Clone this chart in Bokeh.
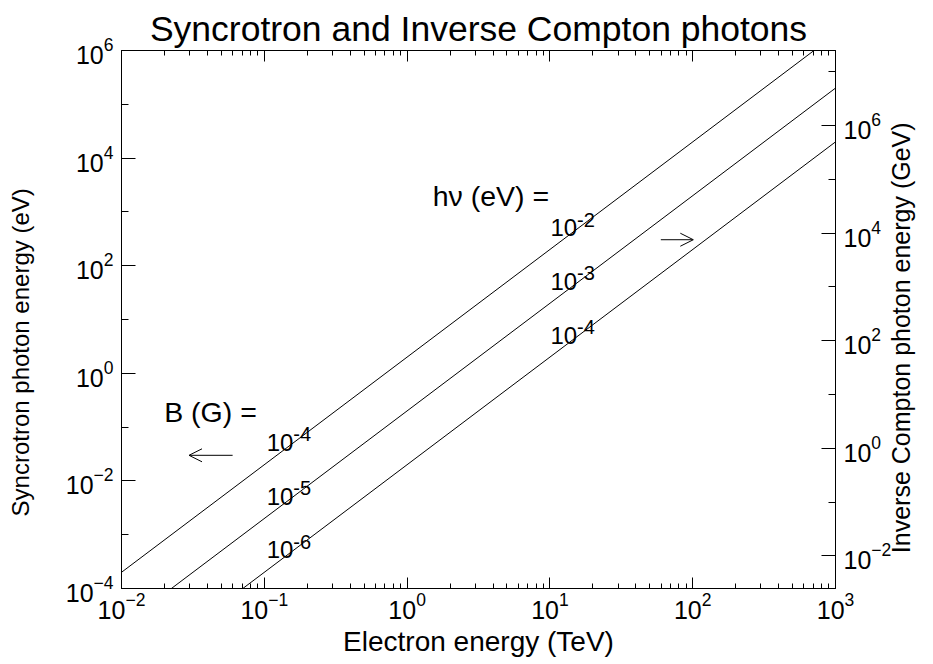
import math
from bokeh.plotting import figure
from bokeh.models import (Range1d, LogAxis, LogScale, FixedTicker, Arrow, OpenHead,
                          CustomJSTickFormatter)
from bokeh.core.properties import value
from bokeh.embed import file_html
from bokeh.resources import INLINE

# ---------------- data ----------------
electron_energy_tev = [1e-2, 1e3]
syn_B_1e4 = [2.0e-4, 2.0e6]     # B = 1e-4 G  /  hv = 1e-2 eV
syn_B_1e5 = [2.0e-5, 2.0e5]     # B = 1e-5 G  /  hv = 1e-3 eV
syn_B_1e6 = [2.0e-6, 2.0e4]     # B = 1e-6 G  /  hv = 1e-4 eV

x_limits = (1e-2, 1e3)
y_limits = (1e-4, 1e6)
ic_limits = (2.47e-3, 2.47e7)

x_major = [1e-2, 1e-1, 1e0, 1e1, 1e2, 1e3]
x_minor = [m * d for d in [1e-2, 1e-1, 1e0, 1e1, 1e2] for m in range(2, 10)]
y_major = [1e-4, 1e-2, 1e0, 1e2, 1e4, 1e6]
y_minor = [1e-3, 1e-1, 1e1, 1e3, 1e5]
ic_major = [1e-2, 1e0, 1e2, 1e4, 1e6]
ic_minor = [1e-1, 1e1, 1e3, 1e5, 1e7]

b_header = "B (G) ="
b_exponents = ["-4", "-5", "-6"]
b_label_x = [0.104, 0.104, 0.104]
b_label_y = [0.052, 0.0052, 0.00052]

hv_header = "h\u03bd (eV) ="
hv_exponents = ["-2", "-3", "-4"]
hv_label_x = [10.1, 10.1, 10.1]
hv_label_y = [508.0, 51.0, 5.1]

left_title = "Syncrotron photon energy (eV)"
right_title = "Inverse Compton photon energy (GeV)"
left_title_at = 2.45      # axis value at the middle of the left title
right_title_at = 0.0112   # axis value where the right title begins

FONT = "Liberation Sans"
W, H = 933, 664
BL, BR, BT, BB = 121, 98, 50, 76          # borders around the frame

p = figure(width=W, height=H, x_axis_type="log", y_axis_type="log",
           x_range=Range1d(*x_limits), y_range=Range1d(*y_limits),
           output_backend="svg", toolbar_location=None,
           min_border_left=BL, min_border_right=BR,
           min_border_top=BT, min_border_bottom=BB,
           background_fill_color="white", border_fill_color="white")

p.title.text = "Syncrotron and Inverse Compton photons"
p.title.align = "center"
p.title.text_font = FONT
p.title.text_font_size = "35.5px"
p.title.text_font_style = "normal"
p.title.text_color = "black"
p.title.standoff = 4

p.xgrid.visible = False
p.ygrid.visible = False
p.outline_line_color = "black"
p.outline_line_width = 1

p.extra_y_ranges = {"ic": Range1d(*ic_limits)}
p.extra_y_scales = {"ic": LogScale()}


def style_axis(ax, major_in, minor_in, font_size="25px"):
    ax.major_tick_in = major_in
    ax.major_tick_out = 0
    ax.minor_tick_in = minor_in
    ax.minor_tick_out = 0
    ax.axis_line_color = "black"
    ax.major_tick_line_color = "black"
    ax.minor_tick_line_color = "black"
    ax.major_label_text_font = FONT
    ax.major_label_text_font_size = font_size
    ax.major_label_text_color = "black"
    ax.axis_label_text_font = FONT
    ax.axis_label_text_font_style = "normal"
    ax.axis_label_text_color = "black"


def title_axis(range_name, at, text, size, standoff, orientation):
    """An axis without line or tick marks whose single tick label is a title."""
    kw = {} if range_name is None else {"y_range_name": range_name}
    ax = LogAxis(ticker=FixedTicker(ticks=[at], minor_ticks=[]),
                 formatter=CustomJSTickFormatter(args=dict(t=text), code="return t"), **kw)
    ax.axis_line_color = None
    ax.major_tick_line_color = None
    ax.minor_tick_line_color = None
    ax.major_tick_in = 0
    ax.major_tick_out = 0
    ax.minor_tick_in = 0
    ax.minor_tick_out = 0
    ax.major_label_standoff = standoff
    ax.major_label_orientation = orientation
    ax.major_label_text_font = FONT
    ax.major_label_text_font_size = size
    ax.major_label_text_color = "black"
    return ax


xa = p.xaxis[0]
xa.ticker = FixedTicker(ticks=x_major, minor_ticks=x_minor)
style_axis(xa, 11, 5)
xa.axis_label = "Electron energy (TeV)"
xa.axis_label_text_font_size = "28px"
xa.major_label_standoff = 3
xa.axis_label_standoff = 4

ya = p.yaxis[0]
ya.ticker = FixedTicker(ticks=y_major, minor_ticks=y_minor)
style_axis(ya, 14, 7)
ya.major_label_standoff = 8

top = LogAxis(ticker=FixedTicker(ticks=x_major, minor_ticks=x_minor),
              formatter=CustomJSTickFormatter(code="return ''"))
style_axis(top, 11, 5, "0px")
top.major_label_standoff = 0
p.add_layout(top, "above")

ra = LogAxis(y_range_name="ic", ticker=FixedTicker(ticks=ic_major, minor_ticks=ic_minor))
style_axis(ra, 14, 7)
ra.major_label_standoff = 8
p.add_layout(ra, "right")

# vertical titles (both read bottom-to-top, as in the reference)
p.add_layout(title_axis(None, left_title_at, left_title, "24px", 28, "vertical"), "left")
p.add_layout(title_axis("ic", right_title_at, right_title, "25px", 7, math.pi / 2), "right")

for ys in (syn_B_1e4, syn_B_1e5, syn_B_1e6):
    p.line(electron_energy_tev, ys, line_color="black", line_width=1)

# labels inside the plot
p.text(x=[0.0199], y=[0.19], text=[b_header], text_font=value(FONT),
       text_font_size="28.5px", text_baseline="alphabetic", text_align="left", text_color="black")
p.text(x=[1.51], y=[1950.0], text=[hv_header], text_font=value(FONT),
       text_font_size="28.5px", text_baseline="alphabetic", text_align="left", text_color="black")

for xs, ys, exps in ((b_label_x, b_label_y, b_exponents), (hv_label_x, hv_label_y, hv_exponents)):
    p.text(x=xs, y=ys, text=["10"] * len(xs), text_font=value(FONT), text_font_size="24px",
           text_baseline="alphabetic", text_align="left", text_color="black")
    p.text(x=xs, y=ys, text=exps, text_font=value(FONT), text_font_size="20px",
           x_offset=26.5, y_offset=-8,
           text_baseline="alphabetic", text_align="left", text_color="black")

# arrows
p.add_layout(Arrow(end=OpenHead(size=13, line_width=1, line_color="black"),
                   x_start=0.060, y_start=0.0299, x_end=0.0297, y_end=0.0299,
                   line_width=1, line_color="black"))
p.add_layout(Arrow(end=OpenHead(size=13, line_width=1, line_color="black"),
                   x_start=59.8, y_start=304.0, x_end=101.0, y_end=304.0,
                   line_width=1, line_color="black"))

open("out.html", "w").write(file_html(p, INLINE))
